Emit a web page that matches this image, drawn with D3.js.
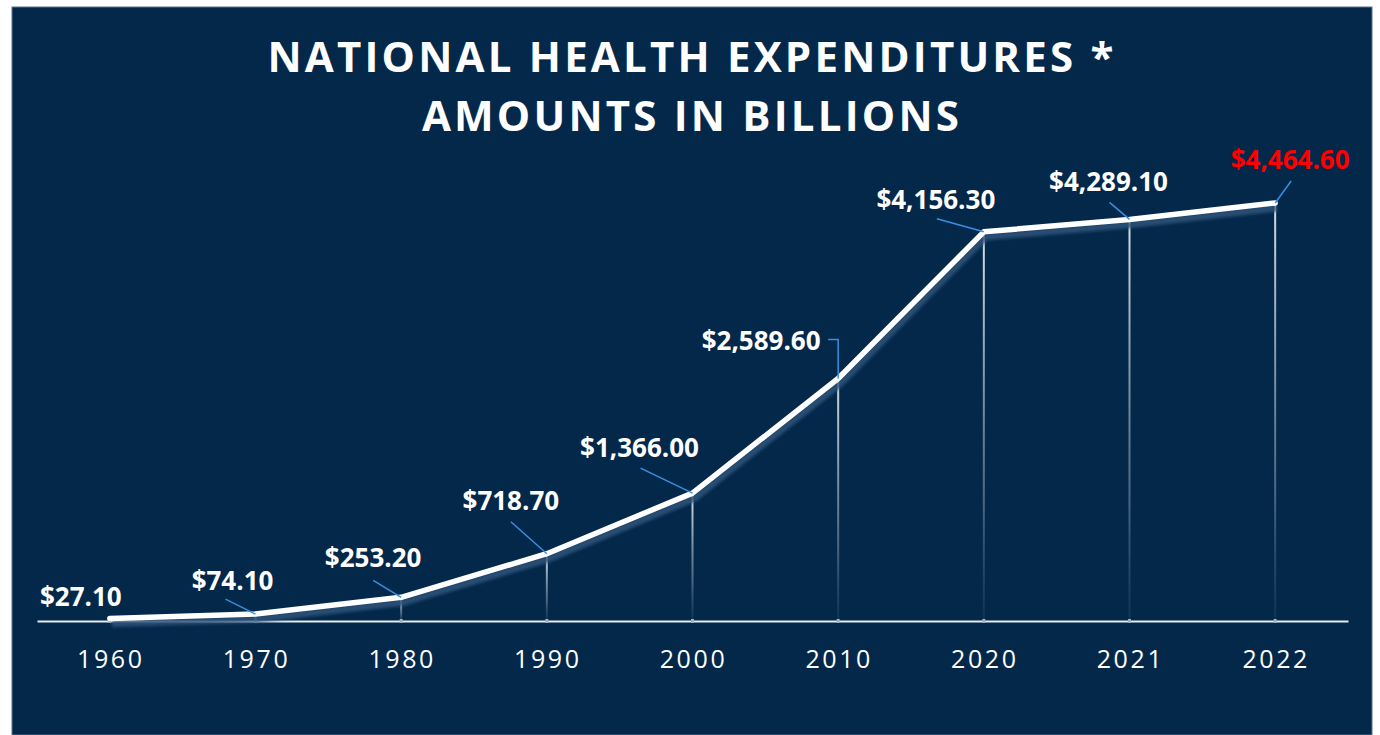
<!DOCTYPE html>
<html><head><meta charset="utf-8">
<script src="https://cdn.jsdelivr.net/npm/d3@7"></script>
<style>
html,body{margin:0;padding:0;background:#fff;}
svg{display:block;}
</style></head>
<body>
<svg id="chart" width="1380" height="735"></svg>
<script>
const years = ["1960","1970","1980","1990","2000","2010","2020","2021","2022"];
const values = [27.1, 74.1, 253.2, 718.7, 1366.0, 2589.6, 4156.3, 4289.1, 4464.6];
const valueLabels = ["$27.10","$74.10","$253.20","$718.70","$1,366.00","$2,589.60","$4,156.30","$4,289.10","$4,464.60"];
const titleLines = ["NATIONAL HEALTH EXPENDITURES *", "AMOUNTS IN BILLIONS"];

// layout (label placement relative to each point)
const labelOffsets = [[-29,-12],[-23,-24],[-28,-30],[-36,-44],[-53,-36],[-77,-29],[-48,-23],[-21,-28],[15,-34]];
const leaderOffsets = [null,[[-30,-15]],[[-28,-17]],[[-36,-32]],[[-52,-25]],[[-10,-39],[0,-39]],[[-47,-13]],[[-20,-17]],[[16,-22]]];

const svg = d3.select("#chart");
const defs = svg.append("defs");
const grad = defs.append("linearGradient").attr("id","drop").attr("x1",0).attr("y1",0).attr("x2",0).attr("y2",1);
grad.append("stop").attr("offset","0%").attr("stop-color","#d8e0e8").attr("stop-opacity",1);
grad.append("stop").attr("offset","70%").attr("stop-color","#8fa3b8").attr("stop-opacity",0.5);
grad.append("stop").attr("offset","100%").attr("stop-color","#5d7897").attr("stop-opacity",0.15);
defs.append("filter").attr("id","blur").attr("x","-5%").attr("y","-20%").attr("width","110%").attr("height","140%")
  .append("feGaussianBlur").attr("stdDeviation",1.5);

// panel
svg.append("rect").attr("x",12).attr("y",7).attr("width",1360).attr("height",728)
  .attr("fill","#03284a").attr("stroke","#5a7390").attr("stroke-width",1);

const x = d3.scaleBand().domain(years).range([37,1348]).padding(0);
const y = d3.scaleLinear().domain([0,5000]).range([621,152.85]);
const cx = d => x(d) + x.bandwidth()/2;

// title
const title = svg.append("text").attr("x",691).attr("fill","#fff")
  .attr("font-family","'Open Sans', sans-serif").attr("font-weight",700)
  .attr("font-size",42).attr("letter-spacing",3.2).attr("text-anchor","middle");
title.selectAll("tspan").data(titleLines).join("tspan")
  .attr("x",692).attr("y",(d,i)=>72+i*59).text(d=>d);

// axis
const axis = d3.axisBottom(x).tickSize(0).tickPadding(0);
const gx = svg.append("g").attr("transform","translate(0,621)").call(axis);
gx.select(".domain").attr("stroke","#e6ebf0").attr("stroke-width",2);
gx.selectAll(".tick text").attr("fill","#fff").attr("font-family","'Open Sans', sans-serif")
  .attr("font-size",25).attr("letter-spacing",2.6).attr("dy",0).attr("y",47)
  .attr("text-anchor","middle").attr("dx",1);

const pts = years.map((yr,i)=>({yr, v:values[i], label:valueLabels[i], i, px:cx(yr), py:y(values[i])}));

// drop lines
svg.append("g").selectAll("rect").data(pts).join("rect")
  .attr("x",d=>d.px-1).attr("y",d=>d.py).attr("width",2).attr("height",d=>y(0)-d.py)
  .attr("fill","url(#drop)");
svg.append("g").selectAll("rect").data(pts).join("rect")
  .attr("x",d=>d.px-1.5).attr("y",619).attr("width",3).attr("height",4).attr("fill","#9fb1c4");

// line shadow + line
const line = d3.line().x(d=>d.px).y(d=>d.py);
svg.append("path").datum(pts).attr("d",line).attr("transform","translate(2,5)")
  .attr("fill","none").attr("stroke","#2f5479").attr("stroke-width",7).attr("stroke-opacity",0.85)
  .attr("filter","url(#blur)");
svg.append("path").datum(pts).attr("d",line).attr("fill","none").attr("stroke","#fff")
  .attr("stroke-width",5.5).attr("stroke-linejoin","round").attr("stroke-linecap","round");

// leader lines
svg.append("g").selectAll("polyline").data(pts.filter(d=>leaderOffsets[d.i])).join("polyline")
  .attr("points",d=>{
    const p = leaderOffsets[d.i].map(o=>[d.px+o[0], d.py+o[1]]);
    p.push([d.px,d.py]);
    return p.map(q=>q.join(",")).join(" ");
  })
  .attr("fill","none").attr("stroke","#3a8fe0").attr("stroke-width",1.5);

// value labels
svg.append("g").selectAll("text").data(pts).join("text")
  .attr("x",d=>d.px+labelOffsets[d.i][0]).attr("y",d=>d.py+labelOffsets[d.i][1])
  .attr("text-anchor","middle").attr("font-family","'Open Sans', sans-serif").attr("font-weight",700)
  .attr("font-size",26).attr("fill",d=>d.i===pts.length-1?"#ff0000":"#fff")
  .text(d=>d.label);
</script>
</body></html>
